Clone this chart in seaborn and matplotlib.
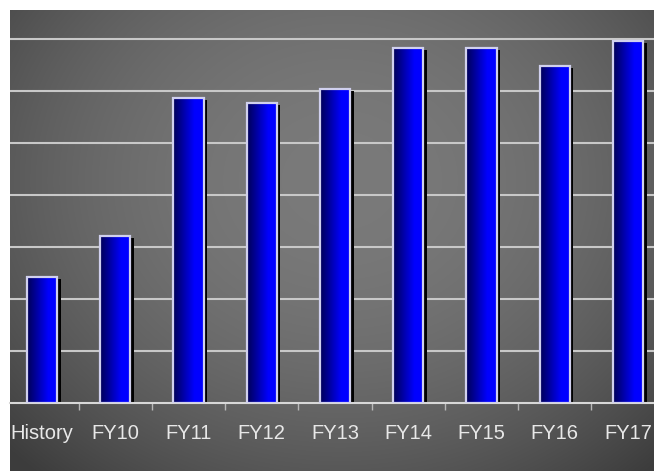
import numpy as np
import pandas as pd
import matplotlib
matplotlib.use("Agg")
import matplotlib.pyplot as plt
import matplotlib.transforms as mtransforms
from matplotlib.patches import Rectangle
import seaborn as sns

categories = ["History", "FY10", "FY11", "FY12", "FY13", "FY14", "FY15", "FY16", "FY17"]
values = [2.43, 3.21, 5.87, 5.77, 6.03, 6.83, 6.83, 6.49, 6.97]

sns.set_theme(style="white")
plt.rcParams["font.family"] = ["Liberation Sans Narrow", "Liberation Sans", "DejaVu Sans"]

W, H = 654, 471
fig = plt.figure(figsize=(W / 100, H / 100), dpi=100)
fig.patch.set_facecolor("white")

# background radial gradient
bg = fig.add_axes([0, 0, 1, 1])
bg.set_xlim(0, W)
bg.set_ylim(H, 0)
bg.axis("off")
yy, xx = np.mgrid[10:H, 10:W]
r2 = ((xx - 340) / 390.0) ** 2 + ((yy - 180) / 330.0) ** 2
v = 122 - (122 - 60) * np.clip(r2, 0, 1.4) / 1.4
img = np.dstack([v, v, v]) / 255.0
bg.imshow(img, extent=[10, W, H, 10], aspect="auto", interpolation="bilinear", zorder=0)

# main axes
px_per_unit = 73.25
c0 = 42.0
base_y = 403.3
unit_y = 52.04
ax = fig.add_axes([10 / W, (H - base_y) / H, (W - 10) / W, (base_y - 10) / H])
ax.patch.set_alpha(0)

df = pd.DataFrame({"cat": categories, "val": values})
sns.barplot(data=df, x="cat", y="val", ax=ax, color="#0000ff", width=0.41, saturation=1, zorder=3)

xlim = ((10 - c0) / px_per_unit, (W - c0) / px_per_unit)
ylim = (0, (base_y - 10) / unit_y)

grad = np.zeros((1, 64, 3))
t = np.linspace(0, 1, 64)
grad[0, :, 2] = np.clip(0.34 + (1.0 - 0.34) * t / 0.7, 0, 1.0)

shadow_tr = mtransforms.offset_copy(ax.transData, fig=fig, x=3.5, y=-2, units="dots")
for p in ax.patches:
    x0, y0 = p.get_x(), p.get_y()
    w, h = p.get_width(), p.get_height()
    sh = Rectangle((x0, y0), w, h, transform=shadow_tr, facecolor="black", edgecolor="none", zorder=2.4)
    ax.add_patch(sh)
    ax.imshow(grad, extent=[x0, x0 + w, y0, y0 + h], aspect="auto", interpolation="bilinear", zorder=2.6)
    p.set_facecolor("none")
    p.set_edgecolor("#d0d0ee")
    p.set_linewidth(1.6)
    p.set_zorder(3)

ax.set_xlim(*xlim)
ax.set_ylim(*ylim)
ax.set_aspect("auto")

ax.set_yticks(range(1, 8))
ax.set_yticklabels([])
ax.tick_params(axis="y", length=0)
ax.grid(axis="y", color="#c8c8c8", linewidth=1.5)
ax.grid(axis="x", visible=False)
ax.set_axisbelow(True)

ax.set_xticks(range(len(categories)))
ax.set_xticklabels(categories, fontsize=14.5, color="#e8e8e8")
ax.tick_params(axis="x", which="major", length=0, pad=15)
ax.set_xticks(np.arange(0.5, len(categories) - 1, 1.0), minor=True)
ax.tick_params(axis="x", which="minor", length=5, width=1, color="#b8b8b8", direction="out", bottom=True)
ax.set_xlabel("")
ax.set_ylabel("")

for s in ["top", "left", "right"]:
    ax.spines[s].set_visible(False)
ax.spines["bottom"].set_color("#d8d8d8")
ax.spines["bottom"].set_linewidth(1.5)

fig.savefig("out.png", dpi=100)
